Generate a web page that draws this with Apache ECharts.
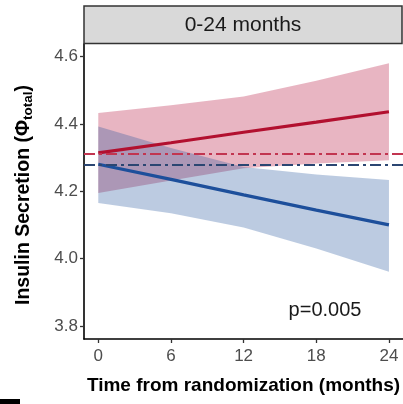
<!DOCTYPE html>
<html>
<head>
<meta charset="utf-8">
<script src="https://cdn.jsdelivr.net/npm/echarts@6/dist/echarts.min.js"></script>
<style>
  html, body { margin: 0; padding: 0; background: #fff; }
  #chart { width: 403px; height: 404px; }
</style>
</head>
<body>
<div id="chart"></div>
<script>
// Months since randomization at which the fitted trends are evaluated
const months = [0, 6, 12, 18, 24];

// Group 1 (red): fitted trend and 95% confidence band
const redFit   = [4.314, 4.344, 4.375, 4.405, 4.436];
const redUpper = [4.432, 4.455, 4.481, 4.528, 4.580];
const redLower = [4.195, 4.232, 4.268, 4.282, 4.292];

// Group 2 (blue): fitted trend and 95% confidence band
const blueFit   = [4.280, 4.235, 4.189, 4.144, 4.100];
const blueUpper = [4.392, 4.328, 4.272, 4.250, 4.233];
const blueLower = [4.165, 4.135, 4.092, 4.030, 3.961];

// Baseline reference levels (horizontal dash-dot lines)
const redBaseline = 4.313;
const blueBaseline = 4.280;

// Axis ticks
const xTicks = [0, 6, 12, 18, 24];
const yTicks = [3.8, 4.0, 4.2, 4.4, 4.6];

const panelTitle = '0-24 months';
const pLabel = 'p=0.005';

const FONT = 'Liberation Sans, Arial, sans-serif';
const RED = '#b2102f';
const BLUE = '#1d4f9b';

function bandSeries(name, lower, upper, fill) {
  const rows = months.map((t, i) => [t, lower[i], upper[i]]);
  return {
    name: name,
    type: 'custom',
    silent: true,
    clip: true,
    z: 1,
    data: rows,
    encode: { x: 0, y: [1, 2] },
    renderItem: function (params, api) {
      if (params.dataIndex !== 0) return null;
      const top = rows.map(r => api.coord([r[0], r[2]]));
      const bottom = rows.slice().reverse().map(r => api.coord([r[0], r[1]]));
      return {
        type: 'polygon',
        shape: { points: top.concat(bottom) },
        style: { fill: fill, stroke: null }
      };
    }
  };
}

function fitSeries(name, values, color, baseline, baseColor) {
  return {
    name: name,
    type: 'line',
    z: 3,
    silent: true,
    symbol: 'none',
    data: months.map((t, i) => [t, values[i]]),
    lineStyle: { color: color, width: 3.2, cap: 'butt' },
    markLine: {
      silent: true,
      symbol: 'none',
      label: { show: false },
      lineStyle: { color: baseColor, width: 2, type: [11, 4, 3, 4] },
      data: [{ yAxis: baseline }]
    }
  };
}

const chart = echarts.init(document.getElementById('chart'), null, { renderer: 'canvas' });

chart.setOption({
  animation: false,
  backgroundColor: '#ffffff',
  grid: { left: 84, top: 44, right: 0, bottom: 65, containLabel: false, outerBoundsMode: 'none' },
  xAxis: {
    type: 'value',
    min: -1.18,
    max: 25.16,
    name: 'Time from randomization (months)',
    nameLocation: 'middle',
    nameGap: 37,
    nameTextStyle: { fontFamily: FONT, fontSize: 19, fontWeight: 'bold', color: '#000' },
    axisLine: { show: true, onZero: false, lineStyle: { color: '#000', width: 1.6 } },
    axisTick: { show: true, length: 4, customValues: xTicks, lineStyle: { color: '#333', width: 1.3 } },
    axisLabel: {
      customValues: xTicks,
      margin: 9,
      fontFamily: FONT, fontSize: 17, color: '#4d4d4d'
    },
    splitLine: { show: false }
  },
  yAxis: {
    type: 'value',
    min: 3.7614,
    max: 4.637,
    name: '{m|Insulin Secretion (Φ}{s|total}{m|)}',
    nameLocation: 'middle',
    nameRotate: 90,
    nameGap: 49,
    nameTextStyle: {
      padding: [0, 7, 0, 0],
      rich: {
        m: { fontFamily: FONT, fontSize: 19.5, fontWeight: 'bold', color: '#000', lineHeight: 21, verticalAlign: 'top' },
        s: { fontFamily: FONT, fontSize: 13.5, fontWeight: 'bold', color: '#000', lineHeight: 14, padding: [10, 0, 0, 0], verticalAlign: 'bottom' }
      }
    },
    axisLine: { show: true, onZero: false, lineStyle: { color: '#000', width: 1.6 } },
    axisTick: { show: true, length: 4, customValues: yTicks, lineStyle: { color: '#333', width: 1.3 } },
    axisLabel: {
      customValues: yTicks,
      margin: 6,
      formatter: v => v.toFixed(1),
      fontFamily: FONT, fontSize: 17, color: '#4d4d4d'
    },
    splitLine: { show: false }
  },
  series: [
    bandSeries('band-red', redLower, redUpper, 'rgba(178, 10, 52, 0.30)'),
    bandSeries('band-blue', blueLower, blueUpper, 'rgba(32, 82, 155, 0.30)'),
    fitSeries('fit-red', redFit, RED, redBaseline, '#c23550'),
    fitSeries('fit-blue', blueFit, BLUE, blueBaseline, '#2b4672')
  ],
  graphic: [
    {
      type: 'rect',
      z: 10,
      shape: { x: 84, y: 6, width: 318, height: 37.5 },
      style: { fill: '#d9d9d9', stroke: '#333', lineWidth: 1.5 }
    },
    {
      type: 'text',
      z: 11,
      x: 243, y: 25,
      style: {
        text: panelTitle,
        fontFamily: FONT, fontSize: 21, fill: '#1a1a1a',
        align: 'center', verticalAlign: 'middle'
      }
    },
    {
      type: 'text',
      z: 11,
      x: 325, y: 310,
      style: {
        text: pLabel,
        fontFamily: FONT, fontSize: 20, fill: '#1a1a1a',
        align: 'center', verticalAlign: 'middle'
      }
    },
    {
      type: 'rect',
      z: 11,
      shape: { x: 0, y: 399, width: 20, height: 5 },
      style: { fill: '#000' }
    }
  ]
});
</script>
</body>
</html>
